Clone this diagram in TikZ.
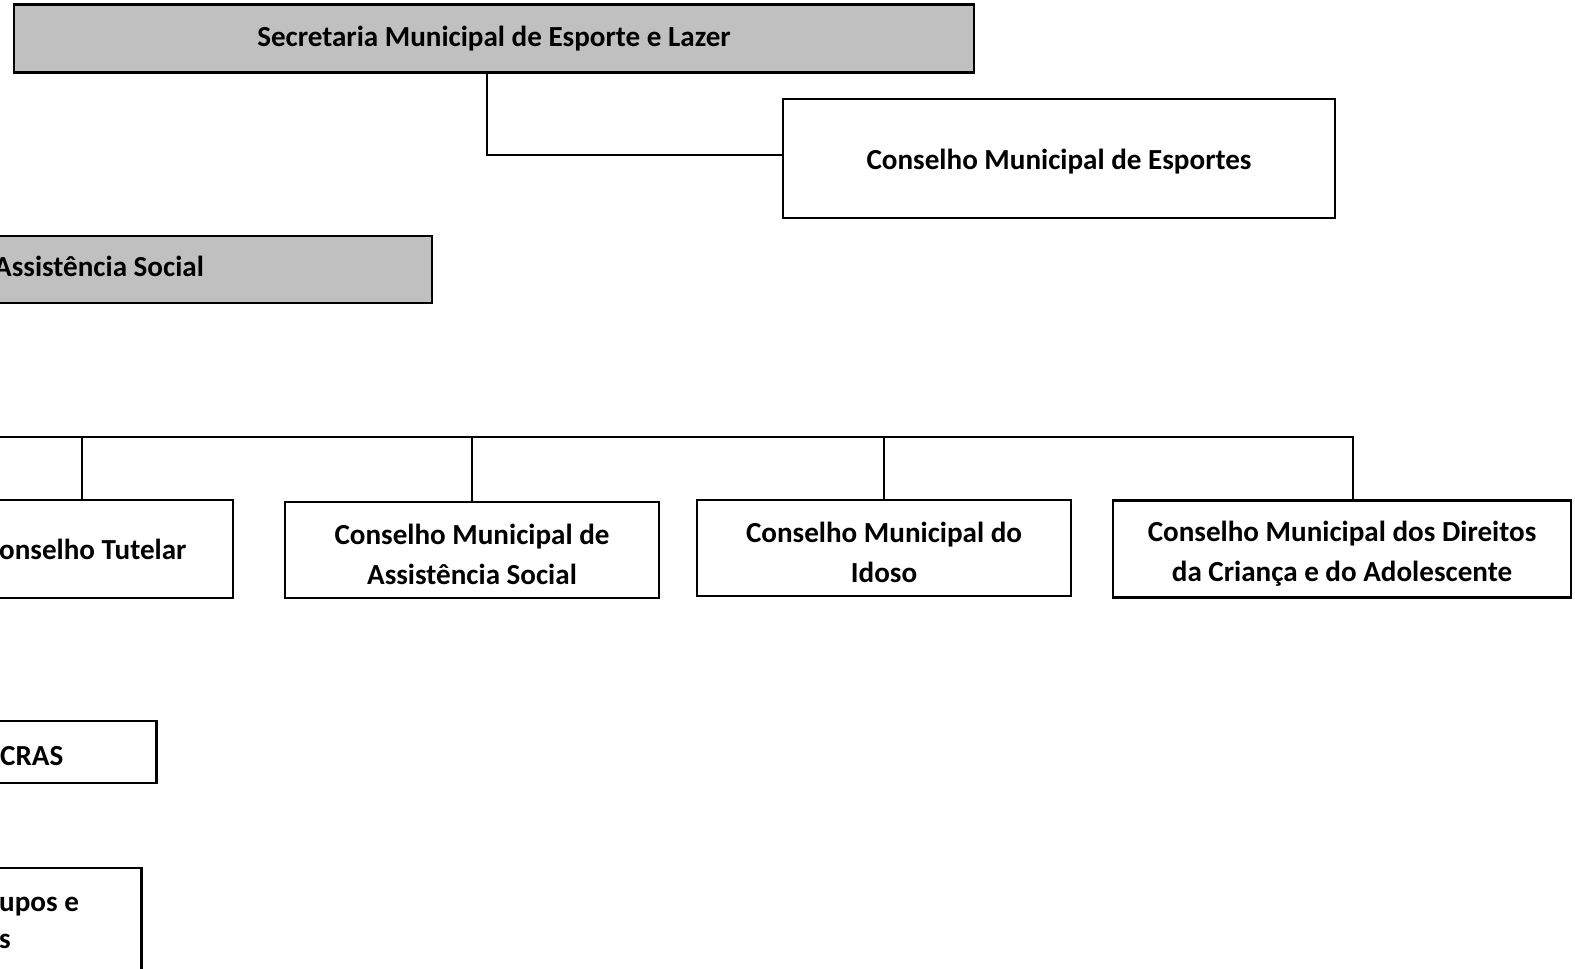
\documentclass[tikz,border=0pt]{standalone}
\usepackage{fontspec}
\setmainfont{Carlito}
\definecolor{cinzaF}{HTML}{C0C0C0}

\begin{document}
\begin{tikzpicture}[
    x=1bp,
    y=-1bp,
    caixa/.style={
      rectangle,
      draw,
      line width=2.8bp,
      inner sep=0pt,
      align=center,
      font=\fontsize{29.2}{40}\selectfont\bfseries
    },
    cinza/.style={caixa, fill=cinzaF},
    umalinha/.style={text height=28bp, text depth=6bp},
    duaslinhas/.style={text height=74bp, text depth=6bp},
    txt/.style={inner sep=0pt, align=left, font=\fontsize{29.2}{37}\selectfont\bfseries},
    liga/.style={line width=2bp}
]

% Area visivel (recorte)
\useasboundingbox (0,0) rectangle (1575,968);
\clip (0,0) rectangle (1575,968);

% Secretarias
\node[cinza, minimum width=960bp, minimum height=68bp] (sec) at (494,38.5) {Secretaria Municipal de Esporte e Lazer};
\node[caixa, umalinha, minimum width=552bp, minimum height=119bp] (esportes) at (1059,158.5) {Conselho Municipal de Esportes};
\node[cinza, minimum width=732bp, minimum height=67bp] (assist) at (66,269.5) {};
\node[txt, anchor=base west] (tAssist) at (-6,276) {Assistência Social};

% Conselhos
\node[caixa, minimum width=302bp, minimum height=98bp] (tutelar) at (82,549) {};
\node[txt, anchor=base west] (tTutelar) at (-1,559) {onselho Tutelar};
\node[caixa, duaslinhas, minimum width=374bp, minimum height=96bp] (cmas) at (472,550) {Conselho Municipal de\\Assistência Social};
\node[caixa, duaslinhas, minimum width=374bp, minimum height=96bp] (idoso) at (884,548) {Conselho Municipal do\\Idoso};
\node[caixa, duaslinhas, text height=70bp, minimum width=458bp, minimum height=97bp] (cmdca) at (1342,549.3) {Conselho Municipal dos Direitos\\da Criança e do Adolescente};

% Unidades
\node[caixa, minimum width=357bp, minimum height=62bp] (cras) at (-22,752) {};
\node[txt, anchor=base west] (tCras) at (0,765) {CRAS};
\node[caixa, minimum width=342bp, minimum height=182bp] (grupos) at (-29.5,959) {};
\node[txt, anchor=base west] (tGrupos) at (-1,948) {upos e\\s};

% Ligacoes
\coordinate (busL) at (-20,437);
\draw[liga] ([xshift=-7bp]sec.south) |- ([yshift=4bp]esportes.west);
\draw[liga] (busL) -| ([xshift=11bp]cmdca.north);
\foreach \n in {tutelar, cmas, idoso}
  \draw[liga] (\n.north) -- (\n.north |- busL);

\end{tikzpicture}
\end{document}
